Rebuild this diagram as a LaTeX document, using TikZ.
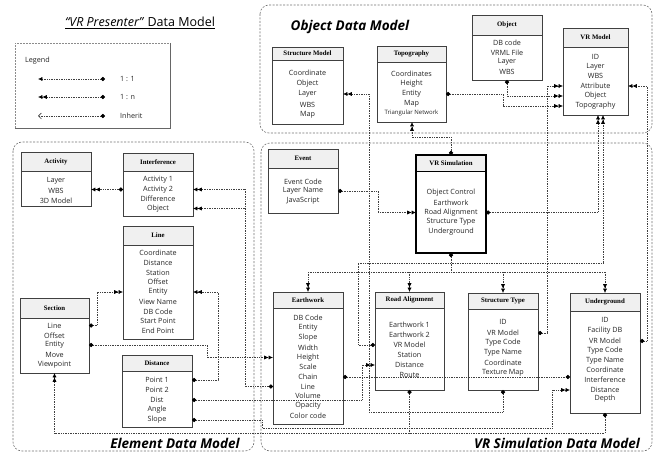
\documentclass[tikz,border=0pt]{standalone}
\usepackage{fontspec}
\setmainfont{Liberation Serif}
\newfontfamily\itemfont{Open Sans}
\newfontfamily\hdrfont{Liberation Serif}
\newfontfamily\ttlfont{Open Sans}
\usetikzlibrary{arrows.meta}

\tikzset{
  region/.style={draw=black!55, dash pattern=on 2pt off 1.5pt, rounded corners=9pt, line width=0.6pt},
  umlbox/.style={draw=black!75, line width=0.6pt, inner sep=0pt, outer sep=0pt},
  sepline/.style={draw=black!75, line width=0.6pt},
  hdrfill/.style={fill=black!6, draw=none},
  hdr/.style={font=\hdrfont\bfseries\fontsize{6.8}{8}\selectfont, inner sep=0pt},
  itm/.style={font=\itemfont\fontsize{7.2}{8}\selectfont, inner sep=0pt, text=black!85},
  smallitm/.style={font=\itemfont\fontsize{6}{7}\selectfont, inner sep=0pt, text=black!85},
  ttl/.style={font=\ttlfont\bfseries\itshape\fontsize{13.5}{15}\selectfont, inner sep=0pt},
  conn/.style={draw=black!75, densely dotted, line width=0.7pt},
  dm/.style={{Circle[length=4.2pt,color=black]}-{Latex[length=4.4pt,width=4.2pt,color=black]Latex[length=4.4pt,width=4.2pt,color=black]}},
  dd/.style={{Circle[length=4.2pt,color=black]}-{Circle[length=4.2pt,color=black]}},
  tm/.style={-{Latex[length=4.4pt,width=4.2pt,color=black]Latex[length=4.4pt,width=4.2pt,color=black]}},
  dstart/.style={{Circle[length=4.2pt,color=black]}-},
}

\newcommand\umlbx[7]{%
  \fill[hdrfill] (#2,#3) rectangle (#4,#6);
  \node[umlbox, anchor=north west, minimum width={(#4)-(#2)}, minimum height={(#5)-(#3)}] (#1) at (#2,#3) {};
  \draw[sepline] (#2,#6) -- (#4,#6);
  \node[hdr] (#1-h) at ({((#2)+(#4))/2},{((#3)+(#6))/2}) {#7};
}
\newcommand\itx[4]{\node[itm] (#1) at (#2,#3) {#4};}

\begin{document}
\begin{tikzpicture}[x=1pt,y=-1pt]
\useasboundingbox[fill=white] (0,0) rectangle (660,454);

% ---------- regions ----------
\draw[region] (260,5) rectangle (652,133);
\draw[region] (13,142) rectangle (254,451);
\draw[region] (261,143) rectangle (652,451);

% ---------- titles ----------
\node[font=\ttlfont\fontsize{12.5}{14}\selectfont, inner sep=0pt] (ttlvrp) at (140,23) {\underline{\textit{“VR Presenter”} Data Model}};
\node[ttl] (ttlobj) at (350,27) {Object Data Model};
\node[ttl] (ttlele) at (175,443) {Element Data Model};
\node[ttl] (ttlsim) at (557,443) {VR Simulation Data Model};

% ---------- legend ----------
\draw[black!45, dash pattern=on 1.5pt off 1.5pt, line width=0.5pt] (15,128) -- (15,43) -- (170,43);
\draw[black!60, line width=0.7pt] (170,43) -- (170,128) -- (15,128);
\node[itm, anchor=west] (legend) at (25,61) {Legend};
\coordinate (lgA1) at (38,79);  \coordinate (lgB1) at (105,79);
\coordinate (lgA2) at (38,97);  \coordinate (lgB2) at (105,97);
\coordinate (lgA3) at (38,116); \coordinate (lgB3) at (105,116);
\draw[conn, {Latex[length=4.4pt,width=4.2pt,color=black]}-{Circle[length=4.2pt,color=black]}] (lgA1) -- (lgB1);
\draw[conn, {Latex[length=4.4pt,width=4.2pt,color=black]Latex[length=4.4pt,width=4.2pt,color=black]}-{Circle[length=4.2pt,color=black]}] (lgA2) -- (lgB2);
\draw[conn, {Straight Barb[length=3pt,width=6pt]}-{Circle[length=4.2pt,color=black]}] (lgA3) -- (lgB3);
\node[itm, anchor=west] (lg1) at (120,79) {1 : 1};
\node[itm, anchor=west] (lg2) at (120,97) {1 : n};
\node[itm, anchor=west] (lg3) at (120,116) {Inherit};

% ---------- Object Data Model ----------
\umlbx{sm}{272}{47}{343}{124}{60}{Structure Model}
\itx{smCo}{307.5}{73}{Coordinate}
\itx{smOb}{307.5}{83.5}{Object}
\itx{smLay}{307.5}{94}{Layer}
\itx{smWbs}{307.5}{104.5}{WBS}
\itx{smMap}{307.5}{115}{Map}

\umlbx{topo}{377}{46}{446}{122}{62}{Topography}
\itx{tCo}{411.5}{74}{Coordinates}
\itx{tHe}{411.5}{84}{Height}
\itx{tEnt}{411.5}{94}{Entity}
\itx{tMap}{411.5}{104}{Map}
\node[smallitm] (tTri) at (411.5,113) {Triangular Network};

\umlbx{obj}{472}{15}{542}{80}{35}{Object}
\itx{oDB}{507}{43}{DB code}
\itx{oVr}{507}{52.5}{VRML File}
\itx{oLay}{507}{62}{Layer}
\itx{oWbs}{507}{72}{WBS}

\umlbx{vrm}{563}{28}{628}{115}{47}{VR Model}
\itx{vId}{595.5}{57}{ID}
\itx{vLay}{595.5}{66.5}{Layer}
\itx{vWbs}{595.5}{76}{WBS}
\itx{vAttr}{595.5}{86}{Attribute}
\itx{vObj}{595.5}{96}{Object}
\itx{vTopo}{595.5}{106}{Topography}

% ---------- Element Data Model ----------
\umlbx{act}{21}{152}{91}{206}{171}{Activity}
\itx{aLay}{56}{181}{Layer}
\itx{aWbs}{56}{191}{WBS}
\itx{a3d}{56}{201}{3D Model}

\umlbx{inter}{123}{153}{193}{216}{171}{Interference}
\itx{iA1}{158}{180}{Activity 1}
\itx{iA2}{158}{189.5}{Activity 2}
\itx{iDif}{158}{199}{Difference}
\itx{iObj}{158}{208.5}{Object}

\umlbx{line}{123}{226}{193}{339}{245}{Line}
\itx{lCo}{158}{253}{Coordinate}
\itx{lDi}{158}{263}{Distance}
\itx{lSt}{158}{272.5}{Station}
\itx{lOf}{158}{282}{Offset}
\itx{lEnt}{158}{292}{Entity}
\itx{lVn}{158}{302}{View Name}
\itx{lDb}{158}{311.5}{DB Code}
\itx{lSp}{158}{321}{Start Point}
\itx{lEp}{158}{331}{End Point}

\umlbx{sect}{20}{298}{89}{373}{318}{Section}
\itx{sLine}{54.5}{325.5}{Line}
\itx{sOff}{54.5}{335.5}{Offset}
\itx{sEnt}{54.5}{345}{Entity}
\itx{sMov}{54.5}{355}{Move}
\itx{sVp}{54.5}{365}{Viewpoint}

\umlbx{dist}{122}{355}{192}{427}{371}{Distance}
\itx{dP1}{157}{380}{Point 1}
\itx{dP2}{157}{390}{Point 2}
\itx{dDist}{157}{400}{Dist}
\itx{dAng}{157}{410}{Angle}
\itx{dSlope}{157}{420}{Slope}

% ---------- VR Simulation Data Model ----------
\umlbx{event}{268}{149}{338}{213}{168}{Event}
\itx{evEC}{303}{182}{Event Code}
\itx{evLN}{303}{191}{Layer Name}
\itx{evJS}{303}{201}{JavaScript}

\fill[hdrfill] (416,155) rectangle (486,172);
\node[umlbox, line width=1.3pt, draw=black, anchor=north west, minimum width=70, minimum height=98] (vrs) at (416,155) {};
\draw[sepline, line width=1pt, draw=black] (416,172) -- (486,172);
\node[hdr] (vrs-h) at (451,163.5) {VR Simulation};
\itx{vOC}{451}{193}{Object Control}
\itx{vEW}{451}{203}{Earthwork}
\itx{vRA}{451}{212.5}{Road Alignment}
\itx{vST}{451}{222}{Structure Type}
\itx{vUG}{451}{232}{Underground}

\umlbx{earth}{273}{292}{343}{424}{308}{Earthwork}
\itx{eDb}{308}{318}{DB Code}
\itx{eEnt}{308}{328}{Entity}
\itx{eSl}{308}{338}{Slope}
\itx{eWi}{308}{348}{Width}
\itx{eHei}{308}{357.5}{Height}
\itx{eSc}{308}{367}{Scale}
\itx{eChain}{308}{377}{Chain}
\itx{eLine}{308}{386.5}{Line}
\itx{eVol}{308}{396}{Volume}
\itx{eOp}{308}{406}{Opacity}
\itx{eCol}{308}{416}{Color code}

\umlbx{road}{375}{292}{444}{390}{308}{Road Alignment}
\itx{rE1}{409.5}{325}{Earthwork 1}
\itx{rE2}{409.5}{335}{Earthwork 2}
\itx{rVR}{409.5}{345}{VR Model}
\itx{rSt}{409.5}{355}{Station}
\itx{rDist}{409.5}{365}{Distance}
\itx{rRo}{409.5}{375}{Route}

\umlbx{struct}{468}{293}{538}{390}{309}{Structure Type}
\itx{stId}{503}{322}{ID}
\itx{sVR}{503}{333}{VR Model}
\itx{stTC}{503}{343}{Type Code}
\itx{stTN}{503}{353}{Type Name}
\itx{stCo}{503}{363}{Coordinate}
\itx{stTM}{503}{373}{Texture Map}

\umlbx{under}{570}{293}{640}{413}{311}{Underground}
\itx{uId}{605}{320}{ID}
\itx{uFac}{605}{331}{Facility DB}
\itx{uVR}{605}{341}{VR Model}
\itx{uTC}{605}{351}{Type Code}
\itx{uTN}{605}{361}{Type Name}
\itx{uCo}{605}{370}{Coordinate}
\itx{uInt}{605}{380}{Interference}
\itx{uDist}{605}{390}{Distance}
\itx{uDep}{605}{399}{Depth}

% ---------- routing coordinates ----------
\coordinate (xA) at (245,0);
\coordinate (xB) at (97,0);
\coordinate (xC) at (207,0);
\coordinate (xD) at (218,0);
\coordinate (xE) at (362,0);
\coordinate (xF) at (262,0);
\coordinate (yF) at (0,428);
\coordinate (xF2) at (552,0);
\coordinate (yG) at (0,433);
\coordinate (yH) at (0,412);
\coordinate (xH) at (369,0);
\coordinate (xI) at (358,0);
\coordinate (yI) at (0,263);
\coordinate (xI2) at (603,0);
\coordinate (yJ) at (0,272);
\coordinate (xK) at (598,0);
\coordinate (xL) at (378,0);
\coordinate (yM) at (0,137);
\coordinate (xM) at (412,0);
\coordinate (xN) at (503,0);
\coordinate (xP) at (547,0);
\coordinate (xQ) at (647,0);

% ---------- connectors ----------
\draw[conn,dm] (inter.west |- iA2) -- (act.east |- iA2);
\draw[conn,dm] (earth.west |- eLine) -- (xA |- eLine) -- (xA |- iA2) -- (inter.east |- iA2);
\draw[conn,tm] (xA |- iObj) -- (inter.east |- iObj);
\draw[conn,dm] (sect.east |- sLine) -- (xB |- sLine) -- (xB |- lEnt) -- (line.west |- lEnt);
\draw[conn,dm] (sect.east |- sEnt) -- (xC |- sEnt) -- (xC |- eHei) -- (earth.west |- eHei);
\draw[conn,dm] (dist.east |- dP1) -- (xD |- dP1) -- (xD |- lEnt) -- (line.east |- lEnt);
\draw[conn,dm] (dist.east |- dDist) -- (xE |- dDist) -- (xE |- rDist) -- (road.west |- rDist);
\draw[conn,dm] (dist.east |- dSlope) -- (xF |- dSlope) -- (xF |- yF) -- (xF2 |- yF) -- (xF2 |- uDist) -- (under.west |- uDist);
\draw[conn,dm] (under.south) -- (under.south |- yG) -- (sect.south |- yG) -- (sect.south);
\draw[conn,dstart] (road.south) -- (road.south |- yG);
\draw[conn,dm] (struct.south) -- (struct.south |- yH) -- (xH |- yH) -- (xH |- smLay) -- (sm.east |- smLay);
\draw[conn,dd] (earth.east |- eChain) -- (under.west |- eChain);
\draw[conn,dm] (road.west |- rVR) -- (xI |- rVR) -- (xI |- yI) -- (xI2 |- yI) -- (xI2 |- vrm.south);
\draw[conn,dstart] (vrs.south) -- (vrs.south |- yJ);
\draw[conn] (earth.north |- yJ) -- (under.north |- yJ);
\foreach \b in {earth,road,struct,under} \draw[conn,tm] (\b.north |- yJ) -- (\b.north);
\draw[conn,dm] (vrs.east |- vRA) -- (xK |- vRA) -- (xK |- vrm.south);
\draw[conn,dm] (event.east |- evLN) -- (xL |- evLN) -- (xL |- vRA) -- (vrs.west |- vRA);
\draw[conn,dm] (vrs.north) -- (vrs.north |- yM) -- (xM |- yM) -- (xM |- topo.south);
\draw[conn,dm] (topo.east |- tEnt) -- (xN |- tEnt) -- (xN |- vTopo) -- (vrm.west |- vTopo);
\draw[conn,dm] (obj.south) -- (obj.south |- vObj) -- (vrm.west |- vObj);
\draw[conn,dm] (struct.east |- sVR) -- (xP |- sVR) -- (xP |- vAttr) -- (vrm.west |- vAttr);
\draw[conn,dm] (under.east |- uVR) -- (xQ |- uVR) -- (xQ |- vAttr) -- (vrm.east |- vAttr);
\end{tikzpicture}
\end{document}
